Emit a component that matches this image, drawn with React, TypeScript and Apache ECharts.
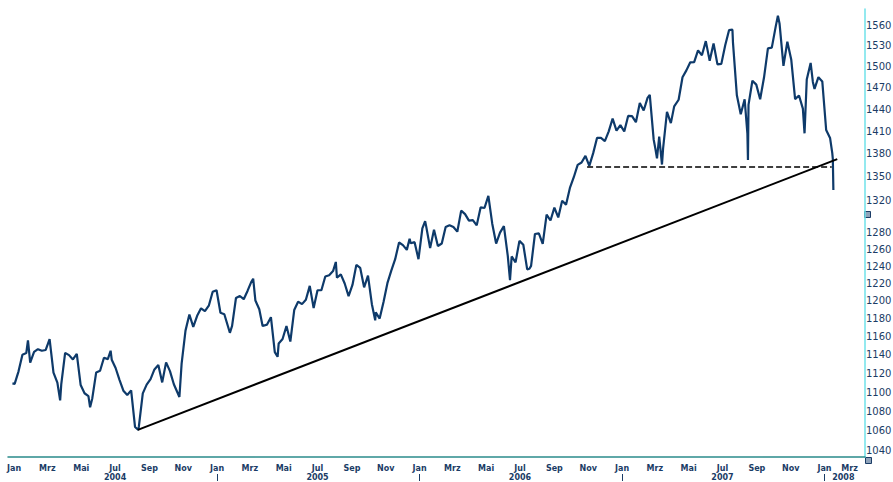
import React, { useEffect, useRef } from 'react';
import * as echarts from 'echarts';

// ---- data (S&P 500 style index) ----
const dates = [
  '2003-12-29',
  '2004-01-02','2004-01-09','2004-01-16','2004-01-23','2004-01-26','2004-01-30','2004-02-06','2004-02-13','2004-02-20','2004-02-27',
  '2004-03-05','2004-03-12','2004-03-19','2004-03-24','2004-03-26','2004-04-02','2004-04-09','2004-04-16','2004-04-23','2004-04-30',
  '2004-05-07','2004-05-14','2004-05-17','2004-05-21','2004-05-28','2004-06-04','2004-06-11','2004-06-18','2004-06-23','2004-06-25',
  '2004-07-02','2004-07-09','2004-07-16','2004-07-23','2004-07-30','2004-08-06','2004-08-12','2004-08-13','2004-08-20','2004-08-27',
  '2004-09-03','2004-09-10','2004-09-17','2004-09-24','2004-10-01','2004-10-08','2004-10-15','2004-10-25','2004-10-29','2004-11-05',
  '2004-11-12','2004-11-19','2004-11-26','2004-12-03','2004-12-10','2004-12-17','2004-12-24','2004-12-31',
  '2005-01-07','2005-01-14','2005-01-24','2005-01-28','2005-02-04','2005-02-11','2005-02-18','2005-02-25','2005-03-04','2005-03-07',
  '2005-03-11','2005-03-18','2005-03-24','2005-04-01','2005-04-08','2005-04-15','2005-04-20','2005-04-22','2005-04-29','2005-05-06',
  '2005-05-13','2005-05-20','2005-05-27','2005-06-03','2005-06-10','2005-06-17','2005-06-24','2005-07-01','2005-07-08','2005-07-15',
  '2005-07-22','2005-07-29','2005-08-03','2005-08-05','2005-08-12','2005-08-19','2005-08-26','2005-09-02','2005-09-09','2005-09-16',
  '2005-09-23','2005-09-30','2005-10-07','2005-10-13','2005-10-14','2005-10-21','2005-10-28','2005-11-04','2005-11-11','2005-11-18',
  '2005-11-25','2005-12-02','2005-12-09','2005-12-14','2005-12-16','2005-12-23','2005-12-30',
  '2006-01-06','2006-01-11','2006-01-13','2006-01-20','2006-01-27','2006-02-03','2006-02-10','2006-02-17','2006-02-24','2006-03-03',
  '2006-03-10','2006-03-17','2006-03-24','2006-03-31','2006-04-07','2006-04-14','2006-04-21','2006-04-28','2006-05-05','2006-05-12',
  '2006-05-19','2006-05-26','2006-06-02','2006-06-09','2006-06-13','2006-06-16','2006-06-23','2006-06-30','2006-07-07','2006-07-14',
  '2006-07-18','2006-07-21','2006-07-28','2006-08-04','2006-08-11','2006-08-18','2006-08-25','2006-09-01','2006-09-08','2006-09-15',
  '2006-09-22','2006-09-29','2006-10-06','2006-10-13','2006-10-20','2006-10-27','2006-11-03','2006-11-10','2006-11-17','2006-11-24',
  '2006-12-01','2006-12-08','2006-12-15','2006-12-22','2006-12-29',
  '2007-01-05','2007-01-12','2007-01-19','2007-01-26','2007-02-02','2007-02-09','2007-02-16','2007-02-20','2007-02-27','2007-03-02',
  '2007-03-05','2007-03-09','2007-03-14','2007-03-16','2007-03-23','2007-03-30','2007-04-05','2007-04-13','2007-04-20','2007-04-27',
  '2007-05-04','2007-05-11','2007-05-18','2007-05-25','2007-06-01','2007-06-08','2007-06-15','2007-06-22','2007-06-29','2007-07-06',
  '2007-07-13','2007-07-19','2007-07-20','2007-07-27','2007-08-03','2007-08-10','2007-08-15','2007-08-16','2007-08-17','2007-08-24',
  '2007-08-31','2007-09-07','2007-09-14','2007-09-21','2007-09-28','2007-10-05','2007-10-09','2007-10-12','2007-10-19','2007-10-26',
  '2007-11-02','2007-11-09','2007-11-16','2007-11-23','2007-11-26','2007-11-30','2007-12-07','2007-12-11','2007-12-14','2007-12-21',
  '2007-12-28',
  '2008-01-04','2008-01-11','2008-01-15','2008-01-16','2008-01-17',
];

const closes = [
  1109,
  1108.5,1121.9,1139.8,1141.6,1155.4,1131.1,1142.8,1145.8,1144.1,1144.9,
  1156.9,1120.6,1109.8,1091.3,1108.1,1141.8,1139.3,1134.6,1140.6,1107.3,
  1098.7,1095.7,1084.1,1093.6,1120.7,1122.5,1136.5,1135.0,1144.1,1134.4,
  1125.4,1112.8,1101.4,1096.8,1101.7,1064.0,1061.0,1064.8,1098.6,1107.8,
  1113.6,1123.9,1128.6,1110.1,1131.5,1122.1,1108.2,1094.8,1130.2,1166.2,
  1184.2,1170.3,1182.7,1191.2,1188.0,1194.2,1210.1,1211.9,
  1186.2,1184.5,1163.8,1171.4,1203.0,1205.3,1201.6,1211.4,1222.1,1225.3,
  1200.1,1190.2,1171.4,1172.9,1181.2,1142.6,1137.5,1152.1,1156.9,1171.4,
  1154.1,1189.3,1198.8,1196.0,1200.9,1217.0,1191.6,1211.9,1211.9,1227.9,
  1229.4,1234.2,1245.0,1226.4,1230.4,1219.7,1205.1,1218.0,1241.5,1237.9,
  1215.3,1228.8,1195.9,1177.7,1186.6,1179.6,1198.4,1220.1,1234.7,1248.3,
  1268.3,1265.1,1259.4,1272.7,1267.3,1268.7,1248.3,
  1285.5,1294.2,1287.6,1261.5,1283.7,1264.0,1267.0,1287.2,1289.4,1287.2,
  1281.4,1307.3,1303.0,1294.9,1295.5,1289.1,1311.3,1310.6,1325.8,1291.2,
  1267.0,1280.2,1288.2,1252.3,1223.7,1251.5,1244.5,1270.2,1265.5,1236.2,
  1236.9,1240.3,1278.6,1279.4,1266.7,1302.3,1295.1,1311.0,1298.9,1319.7,
  1314.8,1335.9,1349.6,1365.6,1368.6,1377.3,1364.3,1380.9,1401.2,1401.0,
  1396.7,1409.8,1427.1,1410.8,1418.3,
  1409.7,1430.7,1430.5,1422.2,1448.4,1438.1,1455.5,1459.7,1399.0,1387.2,
  1374.1,1402.8,1366.0,1387.0,1436.1,1420.9,1443.8,1452.9,1484.4,1494.1,
  1505.6,1505.9,1522.8,1515.7,1536.3,1507.7,1532.9,1502.6,1503.4,1530.4,
  1552.5,1553.1,1534.1,1459.0,1433.1,1453.6,1406.7,1372.0,1445.9,1479.4,
  1474.0,1453.6,1484.3,1525.8,1526.8,1557.6,1574.0,1561.8,1500.6,1535.3,
  1509.7,1453.7,1458.7,1440.7,1407.2,1481.1,1504.7,1477.7,1468.0,1484.5,
  1478.5,
  1411.6,1401.0,1381.0,1373.2,1333.3,
];

const monthTickDates = [
  '2004-01-01','2004-03-01','2004-05-01','2004-07-01','2004-09-01','2004-11-01',
  '2005-01-01','2005-03-01','2005-05-01','2005-07-01','2005-09-01','2005-11-01',
  '2006-01-01','2006-03-01','2006-05-01','2006-07-01','2006-09-01','2006-11-01',
  '2007-01-01','2007-03-01','2007-05-01','2007-07-01','2007-09-01','2007-11-01',
  '2008-01-01','2008-03-01',
];
const monthTickNames = [
  'Jan','Mrz','Mai','Jul','Sep','Nov',
  'Jan','Mrz','Mai','Jul','Sep','Nov',
  'Jan','Mrz','Mai','Jul','Sep','Nov',
  'Jan','Mrz','Mai','Jul','Sep','Nov',
  'Jan','Mrz',
];
const yearLabelDates = ['2004-07-01','2005-07-01','2006-07-01','2007-07-01','2008-02-04'];
const yearLabels = ['2004','2005','2006','2007','2008'];
const yearBoundaryDates = ['2005-01-01','2006-01-01','2007-01-01','2008-01-01'];

const yTickValues = [
  1560,1530,1500,1470,1440,1410,1380,1350,1320,
  1280,1260,1240,1220,1200,1180,1160,1140,1120,1100,1080,1060,1040,
];

const trendLinePoints: [string, number][] = [['2004-08-11', 1061], ['2008-01-24', 1373]];
const supportLinePoints: [string, number][] = [['2006-10-30', 1363], ['2008-01-14', 1363]];

const xStart = '2003-12-21';
const xEnd = '2008-03-14';
const yMin = 1034;
const yMax = 1584;

// ---- helpers ----
const EPOCH = Date.parse('2004-01-01');
const toDay = (s: string) => Math.round((Date.parse(s) - EPOCH) / 86400000);

const NAVY = '#1b3c66';
const FONT = '"DejaVu Sans", Verdana, sans-serif';

export default function App() {
  const ref = useRef<HTMLDivElement>(null);

  useEffect(() => {
    if (!ref.current) return;
    const chart = echarts.init(ref.current, undefined, { renderer: 'svg' });

    const monthMap = new Map<number, string>();
    monthTickDates.forEach((d, i) => monthMap.set(toDay(d), monthTickNames[i]));
    const yearMap = new Map<number, string>();
    yearLabelDates.forEach((d, i) => yearMap.set(toDay(d), yearLabels[i]));

    const seriesData = dates.map((d, i) => [toDay(d), closes[i]]);
    const xMin = toDay(xStart);
    const xMax = toDay(xEnd);

    const option: any = {
      animation: false,
      backgroundColor: '#ffffff',
      grid: {
        left: 8,
        right: 28,
        top: 9,
        bottom: 25,
        containLabel: false,
        outerBoundsMode: 'none',
      },
      xAxis: [
        {
          type: 'value',
          min: xMin,
          max: xMax,
          position: 'bottom',
          axisLine: { show: true, onZero: false, lineStyle: { color: '#2a8b8b', width: 1.5 } },
          axisTick: { show: false },
          splitLine: { show: false },
          axisLabel: {
            customValues: monthTickDates.map(toDay),
            formatter: (v: number) => monthMap.get(Math.round(v)) ?? '',
            color: NAVY,
            fontSize: 8,
            fontWeight: 'bold',
            fontFamily: FONT,
            margin: 7,
            alignMaxLabel: 'right',
          },
        },
        {
          type: 'value',
          min: xMin,
          max: xMax,
          position: 'bottom',
          offset: 17,
          axisLine: { show: false, onZero: false },
          axisTick: {
            show: true,
            customValues: yearBoundaryDates.map(toDay),
            length: 7,
            lineStyle: { color: NAVY, width: 1 },
          },
          splitLine: { show: false },
          axisLabel: {
            customValues: yearLabelDates.map(toDay),
            formatter: (v: number) => yearMap.get(Math.round(v)) ?? '',
            color: NAVY,
            fontSize: 8,
            fontWeight: 'bold',
            fontFamily: FONT,
            margin: -1,
          },
        },
      ],
      yAxis: {
        type: 'log',
        logBase: 10,
        min: yMin,
        max: yMax,
        position: 'right',
        axisLine: { show: true, onZero: false, lineStyle: { color: '#6fe2ea', width: 1.5 } },
        axisTick: { show: false },
        splitLine: { show: false },
        axisLabel: {
          customValues: yTickValues,
          formatter: (v: number) => String(Math.round(v)),
          color: NAVY,
          fontSize: 10,
          fontFamily: FONT,
          margin: 1,
        },
      },
      series: [
        {
          type: 'line',
          xAxisIndex: 0,
          yAxisIndex: 0,
          data: seriesData,
          symbol: 'none',
          lineStyle: { color: '#0e3a6a', width: 2.2 },
          silent: true,
          markLine: {
            silent: true,
            symbol: ['none', 'none'],
            label: { show: false },
            data: [
              [
                { coord: [toDay(trendLinePoints[0][0]), trendLinePoints[0][1]], lineStyle: { color: '#000', width: 2, type: 'solid' } },
                { coord: [toDay(trendLinePoints[1][0]), trendLinePoints[1][1]] },
              ],
              [
                { coord: [toDay(supportLinePoints[0][0]), supportLinePoints[0][1]], lineStyle: { color: '#000', width: 1.5, type: [6, 3] } },
                { coord: [toDay(supportLinePoints[1][0]), supportLinePoints[1][1]] },
              ],
            ],
          },
        },
      ],
      graphic: [
        { type: 'rect', left: 864, top: 211, shape: { width: 6, height: 6 }, style: { fill: '#8fa3ba', stroke: NAVY, lineWidth: 1 } },
        { type: 'rect', left: 865, top: 457, shape: { width: 6, height: 6 }, style: { fill: '#8fa3ba', stroke: NAVY, lineWidth: 1 } },
      ],
    };

    chart.setOption(option);
    return () => chart.dispose();
  }, []);

  return (
    <div
      ref={ref}
      style={{ position: 'absolute', left: 0, top: 0, width: 893, height: 482, overflow: 'hidden' }}
    />
  );
}
